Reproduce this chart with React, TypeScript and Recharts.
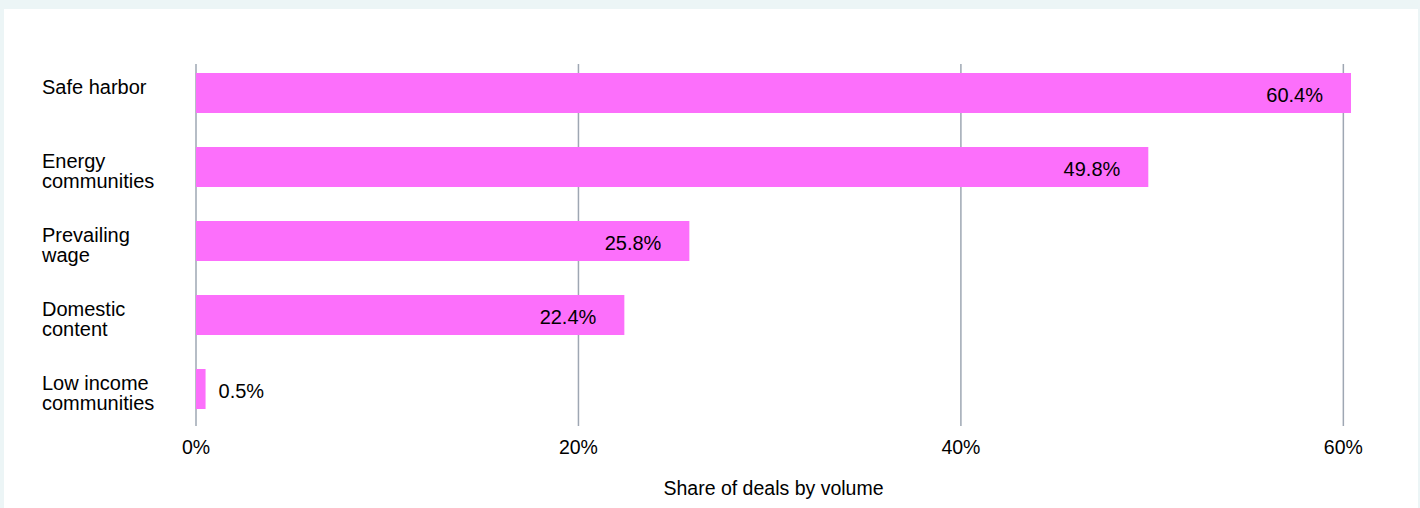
import React from "react";
import { BarChart, Bar, XAxis, YAxis, CartesianGrid, LabelList, Label } from "recharts";

const categories = ["Safe harbor", "Energy communities", "Prevailing wage", "Domestic content", "Low income communities"];
const categoryLines = [["Safe harbor"], ["Energy", "communities"], ["Prevailing", "wage"], ["Domestic", "content"], ["Low income", "communities"]];
const shareValues = [60.4, 49.8, 25.8, 22.4, 0.5];
const xTicks = [0, 20, 40, 60];
const axisTitle = "Share of deals by volume";

const data = categories.map((c, i) => ({ category: c, share: shareValues[i], lines: categoryLines[i] }));

const FONT = "'Liberation Sans', Arial, sans-serif";
const TEXT = "#000000";
const BAR = "#fc6ffb";
const GRID = "#9ea7b3";

const YTick = (props: any) => {
  const { y, payload } = props;
  const idx = categories.indexOf(payload.value);
  const lines = idx >= 0 ? categoryLines[idx] : [payload.value];
  return (
    <g>
      {lines.map((l: string, i: number) => (
        <text key={i} x={38} y={y + 1 + i * 20} fill={TEXT} fontSize={20} fontFamily={FONT} textAnchor="start">
          {l}
        </text>
      ))}
    </g>
  );
};

const XTick = (props: any) => {
  const { x, y, payload } = props;
  return (
    <text x={x} y={y + 28} fill={TEXT} fontSize={19.5} fontFamily={FONT} textAnchor="middle">
      {`${payload.value}%`}
    </text>
  );
};

const ValueLabel = (props: any) => {
  const { x, y, width, height, value } = props;
  const inside = value > 5;
  const tx = inside ? x + width - 28 : x + width + 13;
  return (
    <text x={tx} y={y + height / 2 + 9} fill={TEXT} fontSize={20} fontFamily={FONT} textAnchor={inside ? "end" : "start"}>
      {`${value}%`}
    </text>
  );
};

const GridLine = (props: any) => {
  const { x1, x2, y1, y2 } = props;
  return <line key={`g-${x1}`} x1={x1} x2={x2} y1={y1 + 8} y2={y2} stroke={GRID} strokeWidth={1.5} />;
};

export default function App() {
  return (
    <div style={{ position: "fixed", left: 0, top: 0, width: 1420, height: 508, background: "#ecf5f6", overflow: "hidden" }}>
      <div style={{ position: "absolute", left: 4, top: 9, width: 1414, height: 499, background: "#ffffff" }}>
        <BarChart
          width={1413}
          height={499}
          data={data}
          layout="vertical"
          margin={{ top: 47, right: 66, bottom: 0, left: 0 }}
          barCategoryGap={17}
        >
          <CartesianGrid horizontal={false} vertical={GridLine as any} verticalValues={xTicks} />
          <XAxis
            type="number"
            domain={[0, 60.4]}
            ticks={xTicks}
            axisLine={false}
            tickLine={false}
            tickSize={0}
            tickMargin={0}
            height={82}
            tick={<XTick />}
          >
            <Label
              content={(p: any) => {
                const vb = p.viewBox;
                return (
                  <text x={vb.x + vb.width / 2} y={vb.y + 69} fill={TEXT} fontSize={19.5} fontFamily={FONT} textAnchor="middle">
                    {axisTitle}
                  </text>
                );
              }}
            />
          </XAxis>
          <YAxis type="category" dataKey="category" width={192} axisLine={false} tickLine={false} interval={0} tick={<YTick />} />
          <Bar dataKey="share" fill={BAR} barSize={40} isAnimationActive={false}>
            <LabelList dataKey="share" content={<ValueLabel />} />
          </Bar>
        </BarChart>
      </div>
    </div>
  );
}
